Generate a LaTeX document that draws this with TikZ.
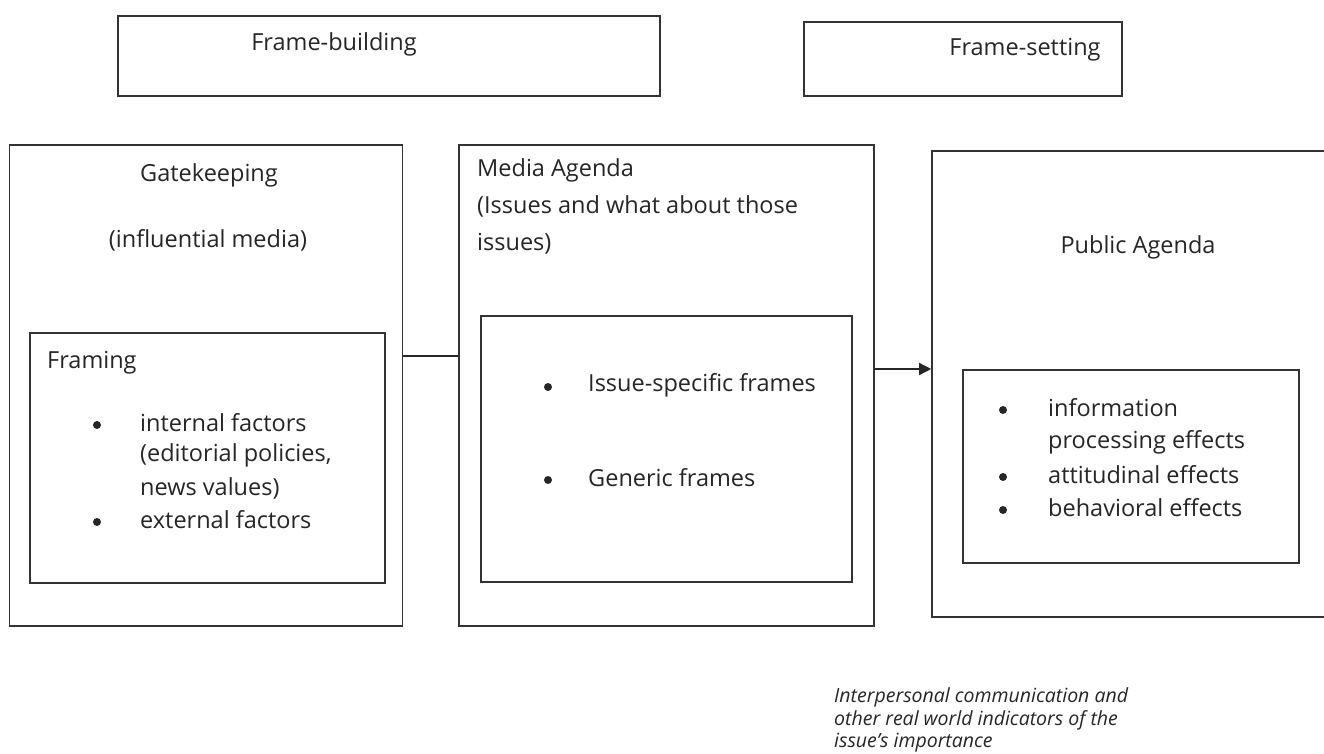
\documentclass[tikz,border=0pt]{standalone}
\usepackage{fontspec}
\setmainfont{Open Sans}
\usetikzlibrary{arrows.meta}
\tikzset{
  box/.style={draw=black!80, line width=1.6pt, fill=none, inner sep=0pt},
  lbl/.style={inner sep=0pt, font=\fontsize{23.5}{28}\selectfont, text=black!85},
  itl/.style={inner sep=0pt, font=\fontsize{19.5}{23}\selectfont\itshape, text=black!85, anchor=west},
  bul/.style={circle, fill=black!85, inner sep=0pt, minimum size=8pt},
  conn/.style={draw=black!85, line width=1.4pt},
}
\begin{document}
\begin{tikzpicture}[x=1pt,y=-1pt]
\clip (0,0) rectangle (1324,754);
\fill[white] (0,0) rectangle (1324,754);
% top boxes
\node[box, minimum width=542pt, minimum height=80pt] (fb) at (389,56) {};
\node[lbl] (fbt) at (334,44) {Frame-building};
\node[box, minimum width=318pt, minimum height=74pt] (fs) at (963,59) {};
\node[lbl] (fst) at (1025,50) {Frame-setting};
% gatekeeping
\node[box, minimum width=393pt, minimum height=481pt] (gate) at (206,385.5) {};
\node[lbl] (gatet) at (209,175) {Gatekeeping};
\node[lbl] (gatei) at (208,240) {(influential media)};
\node[box, minimum width=355pt, minimum height=250pt] (fram) at (207.5,458) {};
\node[lbl, anchor=west] (framt) at (47,363) {Framing};
\node[bul] (b1) at (97,425) {};
\node[lbl, anchor=west] (t1) at (140,423) {internal factors};
\node[lbl, anchor=west] (t1b) at (140,455) {(editorial policies,};
\node[lbl, anchor=west] (t1c) at (140,488) {news values)};
\node[bul] (b2) at (97,522) {};
\node[lbl, anchor=west] (t2) at (140,520) {external factors};
% media agenda
\node[box, minimum width=415pt, minimum height=481pt] (media) at (666.5,385.5) {};
\node[lbl, anchor=west] (mt1) at (477,170) {Media Agenda};
\node[lbl, anchor=west] (mt2) at (477,206) {(Issues and what about those};
\node[lbl, anchor=west] (mt3) at (477,244) {issues)};
\node[box, minimum width=371pt, minimum height=266pt] (minner) at (666.5,449) {};
\node[bul] (mb1) at (548,387) {};
\node[lbl, anchor=west] (mi1) at (588,385) {Issue-specific frames};
\node[bul] (mb2) at (548,480) {};
\node[lbl, anchor=west] (mi2) at (588,478) {Generic frames};
% public agenda
\node[box, minimum width=400pt, minimum height=466pt] (pub) at (1132,384) {};
\node[lbl] (pubt) at (1138,247) {Public Agenda};
\node[box, minimum width=336pt, minimum height=193pt] (pinner) at (1131,466.5) {};
\node[bul] (pb1) at (1003,410) {};
\node[lbl, anchor=west] (pi1) at (1048,408) {information};
\node[lbl, anchor=west] (pi1b) at (1048,442) {processing effects};
\node[bul] (pb2) at (1003,477) {};
\node[lbl, anchor=west] (pi2) at (1048,475) {attitudinal effects};
\node[bul] (pb3) at (1003,510) {};
\node[lbl, anchor=west] (pi3) at (1048,508) {behavioral effects};
% connectors
\coordinate (c1) at (0,356);
\coordinate (c2) at (0,369);
\draw[conn] (gate.east |- c1) -- (media.west |- c1);
\draw[conn, -{Triangle[length=12pt,width=12pt]}] (media.east |- c2) -- (pub.west |- c2);
% bottom italic note
\node[itl] (n1) at (834,697) {Interpersonal communication and};
\node[itl] (n2) at (834,720) {other real world indicators of the};
\node[itl] (n3) at (834,743) {issue’s importance};
\end{tikzpicture}
\end{document}
